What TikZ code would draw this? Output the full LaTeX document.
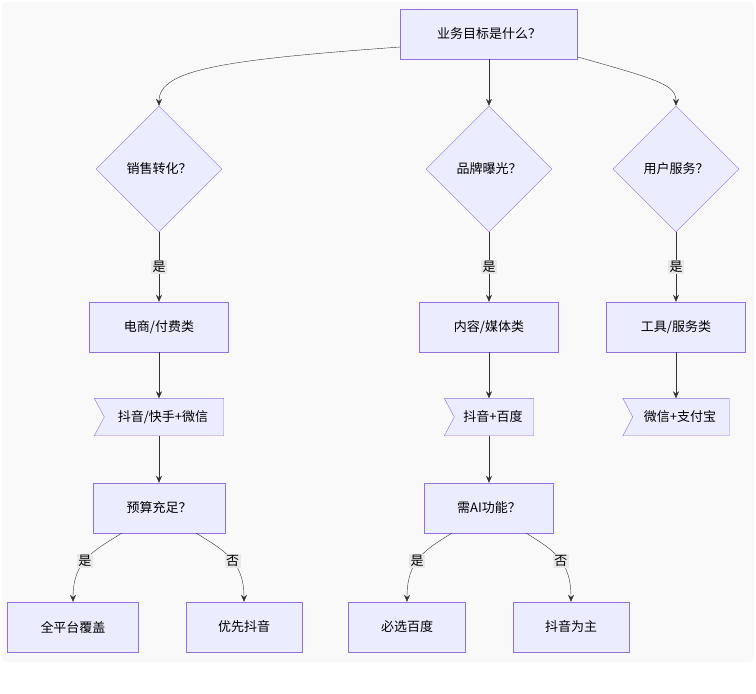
\documentclass[tikz,border=0pt]{standalone}
\usepackage{fontspec}
\setmainfont{Noto Sans CJK SC}
\usetikzlibrary{shapes.geometric, arrows.meta}
\definecolor{boxfill}{HTML}{ECECFF}
\definecolor{boxline}{HTML}{9370DB}
\definecolor{edgeline}{HTML}{333333}
\definecolor{lblfill}{HTML}{E8E8E8}
\tikzset{
  box/.style={draw=boxline, fill=boxfill, minimum height=50pt, font=\fontsize{13}{15}\selectfont},
  choice/.style={diamond, draw=boxline, fill=boxfill, minimum width=126pt, minimum height=126pt, inner sep=0pt, font=\fontsize{13}{15}\selectfont},
  flag/.style={minimum height=37pt, inner sep=0pt, font=\fontsize{13}{15}\selectfont},
  link/.style={draw=edgeline, -{Stealth[length=7pt,width=6pt]}},
  lbl/.style={fill=lblfill, inner sep=1.5pt, font=\fontsize{13}{15}\selectfont},
}
\newcommand{\flagline}[1]{%
  \draw[boxline, fill=boxfill] (#1.north west) -- (#1.north east) -- (#1.south east)
    -- (#1.south west) -- ([xshift=10pt]#1.west) -- cycle;}
\begin{document}
\begin{tikzpicture}[x=1pt, y=-1pt]
  \useasboundingbox (0,0) rectangle (756,694);
  \fill[rounded corners=4pt, fill=gray!5] (2,2) rectangle (754,662);

  \node[box, minimum width=177pt] (goal) at (489,34) {业务目标是什么？};
  \node[choice] (sales) at (159,169) {销售转化？};
  \node[choice] (brand) at (489,169) {品牌曝光？};
  \node[choice] (serve) at (676,169) {用户服务？};

  \node[box, minimum width=139pt] (shop) at (159,327) {电商/付费类};
  \node[box, minimum width=139pt] (media) at (489,327) {内容/媒体类};
  \node[box, minimum width=139pt] (tool) at (676,327) {工具/服务类};

  \node[flag, minimum width=129pt] (dkw) at (159,417) {};
  \node[flag, minimum width=89pt] (dbd) at (489,417) {};
  \node[flag, minimum width=106pt] (wzf) at (676,417) {};
  \flagline{dkw} \flagline{dbd} \flagline{wzf}
  \node[font=\fontsize{13}{15}\selectfont] at ([xshift=4pt]dkw) {抖音/快手+微信};
  \node[font=\fontsize{13}{15}\selectfont] at ([xshift=4pt]dbd) {抖音+百度};
  \node[font=\fontsize{13}{15}\selectfont] at ([xshift=4pt]wzf) {微信+支付宝};

  \node[box, minimum width=132pt] (budget) at (159,508) {预算充足？};
  \node[box, minimum width=129pt] (ai) at (489,508) {需AI功能？};

  \node[box, minimum width=131pt] (all) at (73,627) {全平台覆盖};
  \node[box, minimum width=116pt] (dy) at (244,627) {优先抖音};
  \node[box, minimum width=117pt] (bd) at (407,627) {必选百度};
  \node[box, minimum width=116pt] (dymain) at (571,627) {抖音为主};

  % top fan-out
  \draw[link] (goal.west |- 0,47) .. controls (220,60) and (159,70) .. (sales.north);
  \draw[link] (goal) -- (brand.north);
  \draw[link] (goal.east |- 0,57) .. controls (660,80) and (676,85) .. (serve.north);

  % yes branches
  \draw[link] (sales.south) -- node[lbl] {是} (shop);
  \draw[link] (brand.south) -- node[lbl] {是} (media);
  \draw[link] (serve.south) -- node[lbl] {是} (tool);

  \draw[link] (shop) -- (dkw);
  \draw[link] (media) -- (dbd);
  \draw[link] (tool) -- (wzf);
  \draw[link] (dkw) -- (budget);
  \draw[link] (dbd) -- (ai);

  % bottom splits
  \draw[link] (122,533) .. controls (95,550) and (73,560) .. node[lbl, pos=0.55] {是} (all.north);
  \draw[link] (196,533) .. controls (223,550) and (244,560) .. node[lbl, pos=0.55] {否} (dy.north);
  \draw[link] (452,533) .. controls (425,550) and (407,560) .. node[lbl, pos=0.55] {是} (bd.north);
  \draw[link] (526,533) .. controls (553,550) and (571,560) .. node[lbl, pos=0.55] {否} (dymain.north);
\end{tikzpicture}
\end{document}
